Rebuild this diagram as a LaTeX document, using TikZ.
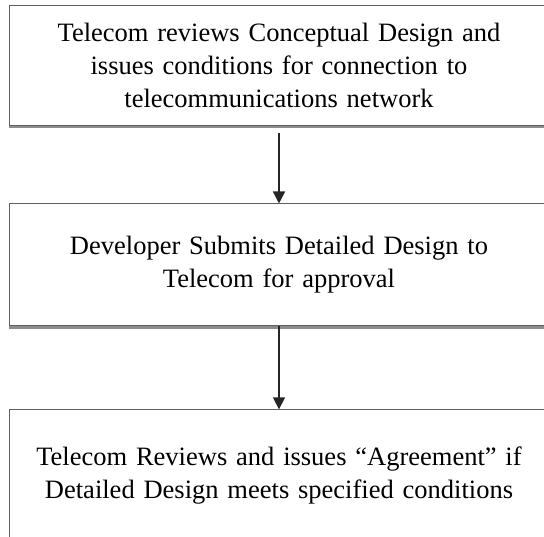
\documentclass[tikz,border=0pt]{standalone}
\usepackage{fontspec}
\setmainfont{Liberation Serif}
\usetikzlibrary{positioning,arrows.meta,shadows}

\begin{document}
\begin{tikzpicture}[x=1pt, y=1pt,
    stage/.style={rectangle, draw=gray!75!black, line width=0.9pt, fill=white, minimum width=540pt, text width=520pt, align=center, font=\fontsize{26.5}{33}\selectfont, drop shadow={shadow xshift=0pt, shadow yshift=-3pt, fill=gray!90, opacity=1}},
    flow/.style={-{Triangle[length=12pt,width=12pt]}, line width=1.6pt, draw=black!85}]

    \useasboundingbox (0,0) rectangle (544,-537);
    \clip (0,0) rectangle (544,-537);

    % Boxes
    \node[stage, minimum height=120pt] (review) at (279,-65) {Telecom reviews Conceptual Design and\\ issues conditions for connection to\\ telecommunications network};
    \node[stage, minimum height=122pt, below=78pt of review] (submit) {Developer Submits Detailed Design to\\ Telecom for approval};
    \node[stage, minimum height=132pt, below=83pt of submit] (agree) {Telecom Reviews and issues “Agreement” if\\ Detailed Design meets specified conditions};

    % Arrows
    \draw[flow, shorten <=8pt] (review) -- (submit);
    \draw[flow] (submit) -- (agree);

\end{tikzpicture}
\end{document}
